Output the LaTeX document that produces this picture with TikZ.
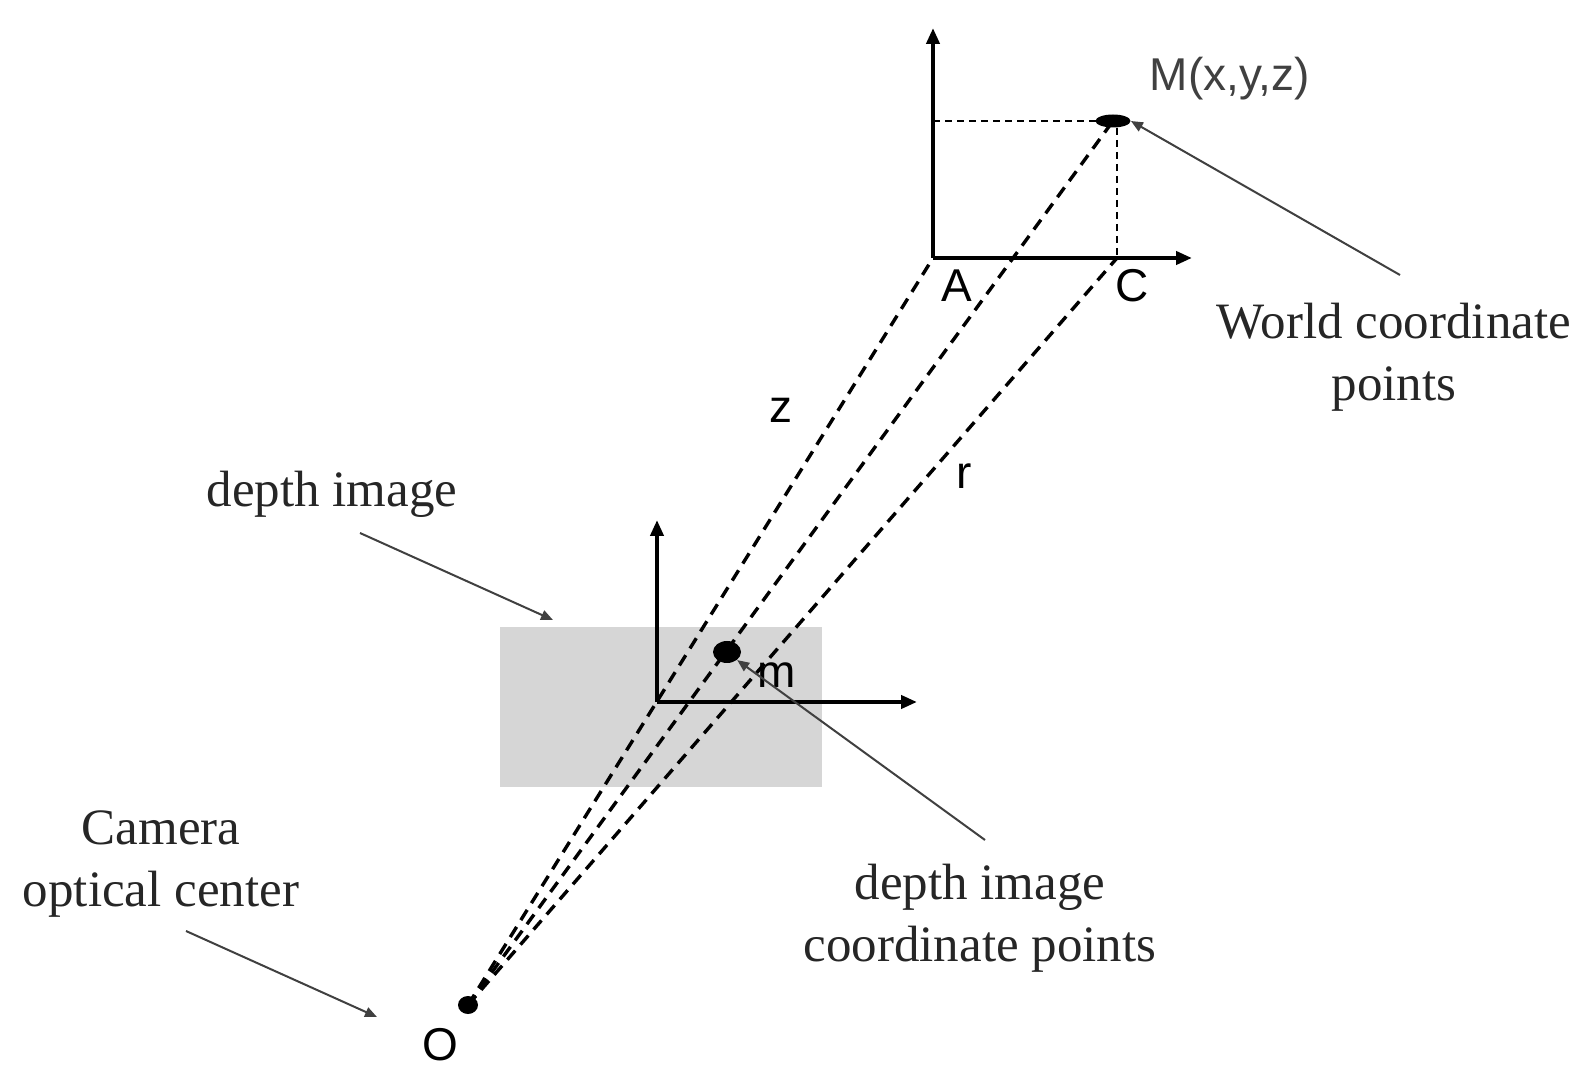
\documentclass[tikz,border=0pt]{standalone}
\usepackage{fontspec}
\setmainfont{Liberation Serif}
\setsansfont{Liberation Sans}
\usetikzlibrary{arrows.meta,shapes.geometric}

\begin{document}
\begin{tikzpicture}[x=0.5pt,y=-0.5pt,
  axis/.style={line width=2pt,-{Triangle[length=8pt,width=6.5pt]}},
  ray/.style={line width=1.7pt,dash pattern=on 6pt off 4pt},
  guide/.style={line width=0.9pt,dash pattern=on 3.5pt off 2.5pt},
  pointer/.style={line width=1pt,draw=black!75,-{Triangle[length=6pt,width=5pt]}},
  dot/.style={fill,ellipse,inner sep=0pt},
  txt/.style={font=\fontsize{25.5pt}{31pt}\selectfont,inner sep=0pt,align=center,text=black!85},
  lbl/.style={font=\sffamily\fontsize{23pt}{27pt}\selectfont,inner sep=0pt}]
\useasboundingbox (0,0) rectangle (1591,1090);
% depth image plane
\fill[black!16] (500,627) rectangle (822,787);
\coordinate (A) at (933,258);
\coordinate (C) at (1117,258);
\coordinate (o) at (657,702);
\node[dot,minimum width=17.5pt,minimum height=6.5pt] (M) at (1113,121) {};
\node[dot,minimum width=14pt,minimum height=11pt] (m) at (727,652) {};
\node[dot,minimum width=10pt,minimum height=9pt] (O) at (468,1005) {};
% rays from the optical center
\draw[ray] (O.center) -- (A);
\draw[ray] (O.center) -- (M.center);
\draw[ray] (O.center) -- (C);
% world axes
\draw[guide] (A |- M) -- (M.center);
\draw[guide] (C |- M.south) -- (C);
\draw[axis] (A) -- ++(0,-230);
\draw[axis] (A) -- ++(259,0);
% image axes
\draw[axis] (o) -- ++(0,-182);
\draw[axis] (o) -- ++(260,0);
% labels
\node[lbl,text=black!75] (Mlbl) at (1230,79) {M(x,y,z)};
\node[lbl] (Albl) at (957,286) {A};
\node[lbl] (Clbl) at (1132,286) {C};
\node[lbl] (Olbl) at (440,1045) {O};
\node[lbl] (zlbl) at (781,410) {z};
\node[lbl] (rlbl) at (964,476) {r};
\node[lbl] (mlbl) at (777,675) {m};
\node[txt] (world) at (1394,357) {World coordinate\\points};
\node[txt] (depth) at (332,494) {depth image};
\node[txt] (camera) at (161,864) {Camera\\optical center};
\node[txt] (pixel) at (980,918) {depth image\\coordinate points};
% pointers
\draw[pointer] (1400,275) -- (M.east);
\draw[pointer] (985,840) -- (m.south east);
\draw[pointer] (360,533) -- (553,620);
\draw[pointer] (186,931) -- (377,1017);
\end{tikzpicture}
\end{document}
